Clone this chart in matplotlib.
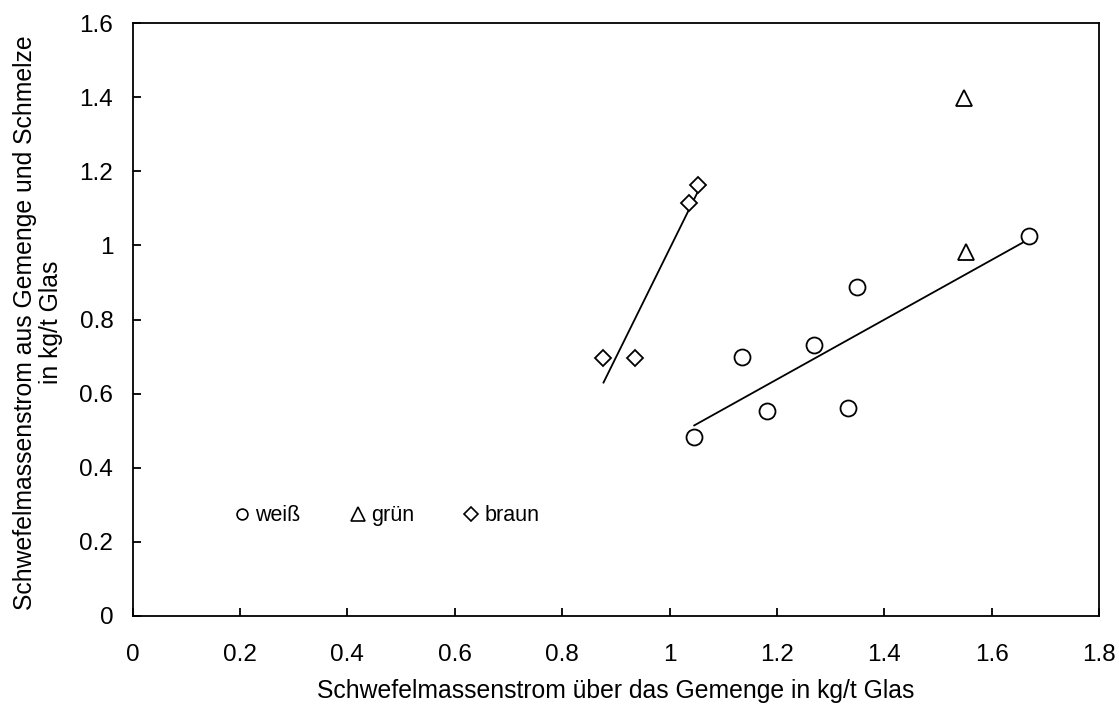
import numpy as np
import matplotlib
matplotlib.use("Agg")
import matplotlib.pyplot as plt
from matplotlib.lines import Line2D

plt.rcParams['font.family'] = ['Liberation Sans', 'DejaVu Sans']

# data
weiss_x = [1.046, 1.135, 1.182, 1.270, 1.333, 1.350, 1.669]
weiss_y = [0.482, 0.700, 0.554, 0.731, 0.560, 0.888, 1.025]
gruen_x = [1.548, 1.553]
gruen_y = [1.399, 0.982]
braun_x = [0.877, 0.935, 1.036, 1.053]
braun_y = [0.697, 0.697, 1.114, 1.163]

x_ticks = [0, 0.2, 0.4, 0.6, 0.8, 1.0, 1.2, 1.4, 1.6, 1.8]
x_tick_labels = ['0', '0.2', '0.4', '0.6', '0.8', '1', '1.2', '1.4', '1.6', '1.8']
y_ticks = [0, 0.2, 0.4, 0.6, 0.8, 1.0, 1.2, 1.4, 1.6]
y_tick_labels = ['0', '0.2', '0.4', '0.6', '0.8', '1', '1.2', '1.4', '1.6']

FS_TICK = 17.5
FS_LABEL = 17.8
FS_LEG = 15.5

fig = plt.figure(figsize=(11.19, 7.04), dpi=100)
ax = fig.add_axes([0.1186, 0.125, 0.8635, 0.8423])

ms = 11.5
mew = 1.3
ax.plot(weiss_x, weiss_y, linestyle='none', marker='o', ms=ms, mfc='white', mec='black', mew=mew, zorder=3)
ax.plot(gruen_x, gruen_y, linestyle='none', marker='^', ms=ms, mfc='white', mec='black', mew=mew, zorder=3)
ax.plot(braun_x, braun_y, linestyle='none', marker='D', ms=ms*0.75, mfc='white', mec='black', mew=mew, zorder=3)

# linear trend lines
for xs, ys in [(weiss_x, weiss_y), (braun_x, braun_y)]:
    xs = np.array(xs); ys = np.array(ys)
    m, b = np.polyfit(xs, ys, 1)
    xx = np.array([xs.min(), xs.max()])
    ax.plot(xx, m * xx + b, color='black', lw=1.3, zorder=2)

ax.set_xlim(0, 1.8)
ax.set_ylim(0, 1.6)
ax.set_xticks(x_ticks)
ax.set_xticklabels(x_tick_labels)
ax.set_yticks(y_ticks)
ax.set_yticklabels(y_tick_labels)
ax.tick_params(direction='in', length=6, width=1.3, labelsize=FS_TICK)
ax.tick_params(axis='x', pad=20)
ax.tick_params(axis='y', pad=14)
for s in ax.spines.values():
    s.set_linewidth(1.3)

ax.set_xlabel('Schwefelmassenstrom über das Gemenge in kg/t Glas', fontsize=FS_LABEL, va='top')
ax.xaxis.set_label_coords(0.5, -0.106)
ax.set_ylabel('Schwefelmassenstrom aus Gemenge und Schmelze\nin kg/t Glas', fontsize=FS_LABEL, va='center',
              linespacing=1.12)
ax.yaxis.set_label_coords(-0.098, 0.495)

handles = [
    Line2D([], [], linestyle='none', marker='o', ms=7.8, mfc='white', mec='black', mew=1.2),
    Line2D([], [], linestyle='none', marker='^', ms=9.5, mfc='white', mec='black', mew=1.2),
    Line2D([], [], linestyle='none', marker='D', ms=7.6, mfc='white', mec='black', mew=1.2),
]
ax.legend(handles, ['weiß', 'grün', 'braun'], ncol=3, frameon=False, fontsize=FS_LEG,
          loc='center left', bbox_to_anchor=(0.102, 0.169), handlelength=1.0,
          handletextpad=0.12, columnspacing=2.15, borderaxespad=0, borderpad=0)

fig.savefig('out.png', dpi=100)
